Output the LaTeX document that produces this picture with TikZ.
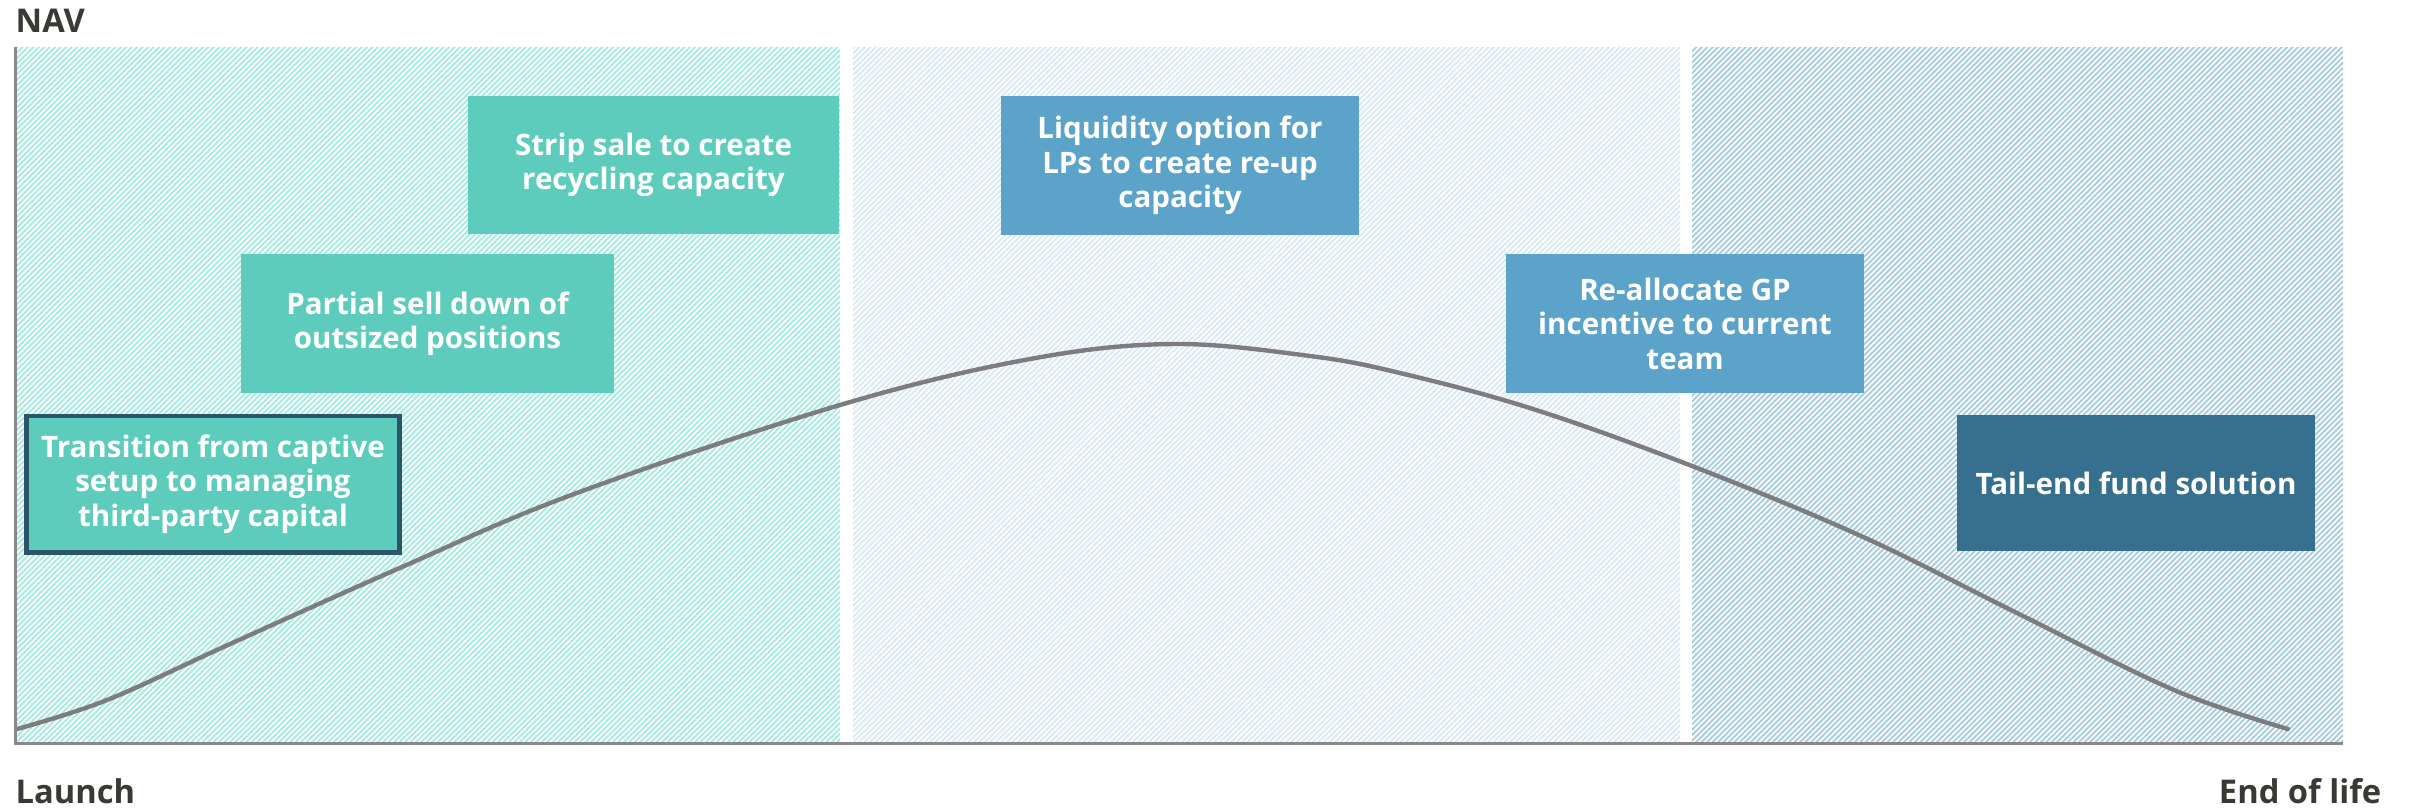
\documentclass[tikz,border=0pt]{standalone}
\usepackage{fontspec}
\setmainfont{Open Sans}
\usetikzlibrary{patterns.meta}
\definecolor{boxteal}{RGB}{93,204,188}
\definecolor{boxblue}{RGB}{91,163,201}
\definecolor{boxdark}{RGB}{55,112,143}
\definecolor{edgedark}{RGB}{45,85,105}
\definecolor{hatchteal}{RGB}{166,235,223}
\definecolor{hatchpale}{RGB}{218,233,243}
\definecolor{hatchblue}{RGB}{167,205,225}
\definecolor{axisgray}{RGB}{137,137,137}
\definecolor{curvegray}{RGB}{125,125,125}
\definecolor{labelgray}{RGB}{58,58,53}

\tikzset{
  zone/.style={pattern={Lines[angle=45,distance=1.1pt,line width=0.55pt]},pattern color=#1},
  stagebox/.style={fill=#1,text=white,align=center,inner sep=0pt,
    font=\bfseries\fontsize{8.4}{9.8}\selectfont,minimum width=3.58cm,minimum height=1.38cm},
  axislabel/.style={text=labelgray,inner sep=0pt,font=\bfseries\fontsize{9.3}{11}\selectfont}
}

\begin{document}
\begin{tikzpicture}[x=0.01cm,y=-0.01cm]
    \useasboundingbox (0,0) rectangle (2418,808);

    % Stage zones
    \fill[zone=hatchteal] (17,47) rectangle (840,742);
    \fill[zone=hatchpale] (853,47) rectangle (1680,742);
    \fill[zone=hatchblue] (1692,47) rectangle (2343,742);

    % NAV curve
    \draw[curvegray,line width=1.25pt,line cap=round] plot[smooth,tension=0.6] coordinates
        {(17,729) (107,700) (230,644) (402,567) (574,494) (840,405) (1030,359)
         (1173,344) (1310,356) (1400,373) (1533,409) (1692,466) (1861,536) (2017,613)
         (2174,690) (2288,729)};

    % Axes
    \draw[axisgray,line width=0.9pt] (15.5,47) |- (2343,743.5);

    % Stage boxes
    \node[stagebox=boxteal,draw=edgedark,line width=1.4pt,minimum width=3.72cm,minimum height=1.36cm]
        (trans) at (213,484) {Transition from captive\\setup to managing\\third-party capital};
    \node[stagebox=boxteal,minimum width=3.73cm,minimum height=1.39cm]
        (partial) at (427.5,323.5) {Partial sell down of\\outsized positions};
    \node[stagebox=boxteal,minimum width=3.71cm]
        (strip) at (653.5,165) {Strip sale to create\\recycling capacity};
    \node[stagebox=boxblue,minimum height=1.39cm]
        (liquidity) at (1180,165.5) {Liquidity option for\\LPs to create re-up\\capacity};
    \node[stagebox=boxblue,minimum height=1.39cm]
        (realloc) at (1685,323.5) {Re-allocate GP\\incentive to current\\team};
    \node[stagebox=boxdark,minimum height=1.36cm]
        (tailend) at (2136,483) {Tail-end fund solution};

    % Labels
    \node[axislabel,anchor=base west] (nav) at (15,32) {NAV};
    \node[axislabel,anchor=base west] (launch) at (15,803) {Launch};
    \node[axislabel,anchor=base east] (endlife) at (2382,803) {End of life};
\end{tikzpicture}
\end{document}
